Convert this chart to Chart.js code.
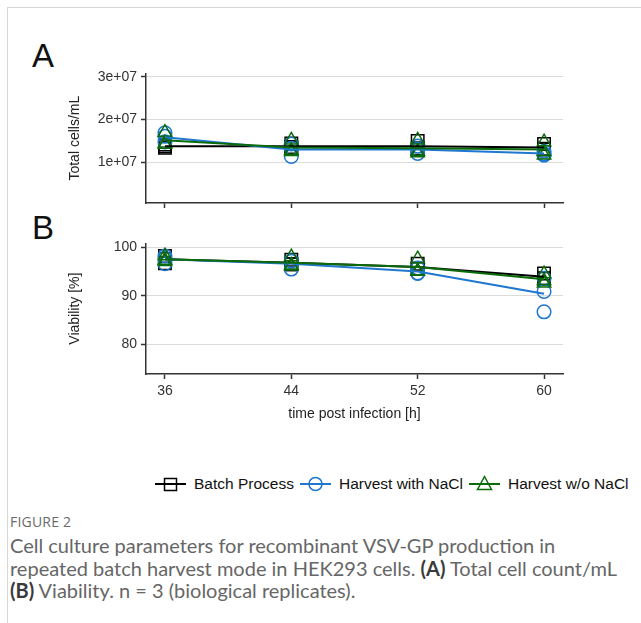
<!DOCTYPE html>
<html>
<head>
<meta charset="utf-8">
<script src="https://cdn.jsdelivr.net/npm/chart.js@4.4.1/dist/chart.umd.min.js"></script>
<style>
  body { margin: 0; background: #fff; width: 641px; height: 623px; overflow: hidden; position: relative;
         font-family: "Liberation Sans", Arial, sans-serif; }
  .frame { position: absolute; left: 7px; top: 7px; width: 700px; height: 700px; border: 1px solid #d6d6d6; }
  .tag { position: absolute; left: 32px; font-size: 33px; line-height: 33px; color: #111; }
  canvas { position: absolute; left: 0; }
  #legend { position: absolute; top: 474px; left: 155px; height: 20px; display: flex; align-items: center;
            font-size: 15.5px; color: #111; white-space: nowrap; }
  #legend canvas { position: static; }
  #legend span { margin: 0 6px 0 8px; }
  .figno { position: absolute; left: 10px; top: 512px; font-family: "Open Sans", sans-serif; font-size: 14px;
           color: #6a6a6a; letter-spacing: 0.2px; }
  .caption { position: absolute; left: 10px; top: 534px; width: 631px; font-family: Lato, "Open Sans", sans-serif;
             font-size: 20px; line-height: 22.7px; color: #666; white-space: nowrap; }
  .caption b { color: #3a3a3a; }
</style>
</head>
<body>
<div class="frame"></div>
<div class="tag" style="top:39px">A</div>
<div class="tag" style="top:211px">B</div>
<canvas id="panelA" width="641" height="160" style="top:60px"></canvas>
<canvas id="panelB" width="641" height="200" style="top:230px"></canvas>
<div id="legend"></div>
<div class="figno">FIGURE 2</div>
<div class="caption">Cell culture parameters for recombinant VSV-GP production in<br>repeated batch harvest mode in HEK293 cells. <b>(A)</b> Total cell count/mL<br><b>(B)</b> Viability. n = 3 (biological replicates).</div>

<script>
const FONT = '"Liberation Sans", Arial, sans-serif';

const times = [36, 44, 52, 60];
const xTicks = [36, 44, 52, 60];
const cellTicks = [1e7, 2e7, 3e7];
const cellTickLabels = ['1e+07', '2e+07', '3e+07'];
const viabTicks = [80, 90, 100];
const viabTickLabels = ['80', '90', '100'];

const seriesNames = ['Batch Process', 'Harvest with NaCl', 'Harvest w/o NaCl'];
const seriesColors = ['#000000', '#1f77d0', '#0b6b0b'];
const seriesShapes = ['rect', 'circle', 'triangle'];
const seriesRadius = [8.8, 6.8, 7.7];

// A: total cells/mL, one row per biological replicate
const batchCells = [
  [1.34e7, 1.44e7, 1.50e7, 1.43e7],
  [1.38e7, 1.36e7, 1.33e7, 1.32e7],
  [1.42e7, 1.34e7, 1.31e7, 1.30e7]
];
const naclCells = [
  [1.69e7, 1.14e7, 1.38e7, 1.17e7],
  [1.61e7, 1.33e7, 1.21e7, 1.20e7],
  [1.48e7, 1.43e7, 1.31e7, 1.26e7]
];
const noNaclCells = [
  [1.70e7, 1.52e7, 1.52e7, 1.48e7],
  [1.45e7, 1.28e7, 1.22e7, 1.17e7],
  [1.42e7, 1.25e7, 1.26e7, 1.25e7]
];
const batchCellsMean = [1.38e7, 1.38e7, 1.38e7, 1.35e7];
const naclCellsMean = [1.59e7, 1.30e7, 1.30e7, 1.21e7];
const noNaclCellsMean = [1.52e7, 1.35e7, 1.33e7, 1.30e7];

// B: viability [%]
const batchViab = [
  [96.7, 97.4, 96.6, 94.6],
  [97.6, 96.5, 95.6, 93.6],
  [98.2, 96.5, 95.5, 93.5]
];
const naclViab = [
  [97.7, 95.5, 95.7, 90.9],
  [96.6, 97.1, 94.6, 86.7],
  [98.2, 97.2, 94.7, 93.6]
];
const noNaclViab = [
  [98.2, 98.0, 97.6, 94.5],
  [97.0, 96.3, 95.0, 92.6],
  [97.3, 96.1, 95.1, 93.1]
];
const batchViabMean = [97.5, 96.8, 95.9, 93.9];
const naclViabMean = [97.5, 96.6, 95.0, 90.4];
const noNaclViabMean = [97.5, 96.8, 95.9, 93.4];

function pts(values) {
  return times.map((t, i) => ({ x: t, y: values[i] }));
}

function buildDatasets(reps, means) {
  const sets = [];
  means.forEach((m, s) => {
    sets.push({
      data: pts(m), showLine: true, borderColor: seriesColors[s], borderWidth: 2,
      pointRadius: 0, tension: 0, order: 2 - s
    });
  });
  reps.forEach((rows, s) => {
    rows.forEach(r => {
      sets.push({
        data: pts(r), showLine: false, pointStyle: seriesShapes[s], pointRadius: seriesRadius[s],
        pointBorderWidth: 1.5, pointBorderColor: seriesColors[s], pointBackgroundColor: 'rgba(0,0,0,0)',
        order: 5 - s
      });
    });
  });
  return sets;
}

function makePanel(id, cfg) {
  const canvas = document.getElementById(id);
  return new Chart(canvas.getContext('2d'), {
    type: 'scatter',
    data: { datasets: buildDatasets(cfg.reps, cfg.means) },
    options: {
      responsive: false,
      animation: false,
      events: [],
      layout: { padding: { top: 13.3, right: 78, left: 0, bottom: 0 } },
      plugins: { legend: { display: false }, tooltip: { enabled: false } },
      scales: {
        x: {
          type: 'linear', min: 34.8, max: 61.2,
          afterBuildTicks: s => { s.ticks = xTicks.map(v => ({ value: v })); },
          afterFit: s => { s.height = cfg.xHeight; },
          ticks: { display: cfg.xLabels, color: '#333', font: { family: FONT, size: 14 }, padding: 4, maxRotation: 0 },
          grid: { drawOnChartArea: false, tickColor: '#333', tickLength: 5, tickWidth: 1.5 },
          border: { color: '#333', width: 1.5 },
          title: { display: cfg.xLabels, text: 'time post infection [h]', color: '#222',
                   font: { family: FONT, size: 14 }, padding: { bottom: 7 } }
        },
        y: {
          type: 'linear', min: cfg.yMin, max: cfg.yMax,
          afterBuildTicks: s => { s.ticks = cfg.yTicks.map(v => ({ value: v })); },
          afterFit: s => { s.width = 146; },
          ticks: { callback: (v, i) => cfg.yLabels[i], color: '#333', font: { family: FONT, size: 14 }, padding: 4 },
          grid: { color: '#dcdcdc', lineWidth: 1, tickColor: '#333', tickLength: 5, tickWidth: 1.5 },
          border: { color: '#333', width: 1.5 },
          title: { display: true, text: cfg.yTitle, color: '#222', font: { family: FONT, size: 14 },
                   padding: { top: 66.6 } }
        }
      }
    }
  });
}

makePanel('panelA', {
  reps: [batchCells, naclCells, noNaclCells],
  means: [batchCellsMean, naclCellsMean, noNaclCellsMean],
  yMin: 5.4e5, yMax: 3.08e7, yTicks: cellTicks, yLabels: cellTickLabels,
  yTitle: 'Total cells/mL', xLabels: false, xHeight: 17
});

makePanel('panelB', {
  reps: [batchViab, naclViab, noNaclViab],
  means: [batchViabMean, naclViabMean, noNaclViabMean],
  yMin: 73.9, yMax: 100.8, yTicks: viabTicks, yLabels: viabTickLabels,
  yTitle: 'Viability [%]', xLabels: true, xHeight: 56
});

// legend keys: line with the series symbol on top
const legend = document.getElementById('legend');
seriesNames.forEach((name, s) => {
  const key = document.createElement('canvas');
  key.width = 31; key.height = 20;
  const ctx = key.getContext('2d');
  ctx.strokeStyle = seriesColors[s];
  ctx.lineWidth = 2;
  ctx.beginPath(); ctx.moveTo(0, 10); ctx.lineTo(31, 10); ctx.stroke();
  ctx.lineWidth = 1.5;
  ctx.beginPath();
  if (seriesShapes[s] === 'rect') {
    ctx.rect(9.5, 4.5, 12, 12);
  } else if (seriesShapes[s] === 'circle') {
    ctx.arc(15.5, 10, 6.5, 0, Math.PI * 2);
  } else {
    ctx.moveTo(15.5, 2.5); ctx.lineTo(22.5, 15.5); ctx.lineTo(8.5, 15.5); ctx.closePath();
  }
  ctx.stroke();
  legend.appendChild(key);
  const label = document.createElement('span');
  label.textContent = name;
  legend.appendChild(label);
});
</script>
</body>
</html>
